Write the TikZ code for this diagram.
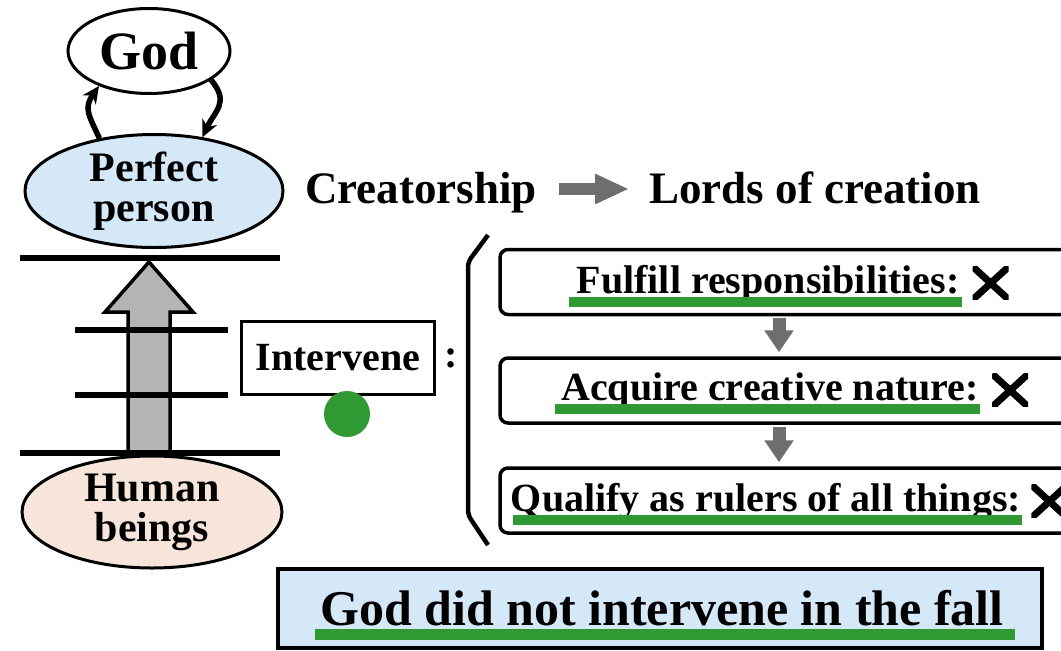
\documentclass[tikz,border=0pt]{standalone}
\usepackage{fontspec}
\setmainfont{Liberation Serif}
\usetikzlibrary{shapes,arrows.meta,positioning,calc}
\usepackage{xcolor}
\definecolor{perfblue}{RGB}{213,232,248}
\definecolor{humanpeach}{RGB}{247,228,218}
\definecolor{ugreen}{RGB}{48,153,52}
\definecolor{arrgray}{RGB}{110,110,110}
\definecolor{upgray}{RGB}{180,180,180}
\newcommand{\fsz}[1]{\fontsize{#1}{#1}\selectfont\bfseries}

\begin{document}
\begin{tikzpicture}[
    x=1pt, y=-1pt,
    oval/.style={ellipse, draw, line width=3pt, inner sep=0pt, align=center},
    txt/.style={inner sep=0pt, anchor=base, font=\fsz{40}},
    reqbox/.style={rectangle, draw, line width=3.5pt, rounded corners=8pt, minimum width=576pt, minimum height=65pt},
    uline/.style={draw=ugreen, line width=10pt},
    bar/.style={line width=6pt},
    xmark/.style={rectangle, inner sep=0pt, minimum width=36pt, minimum height=33pt,
        path picture={\draw[line width=7pt] (path picture bounding box.north west) -- (path picture bounding box.south east)
            (path picture bounding box.south west) -- (path picture bounding box.north east);}},
    downarr/.style={arrgray, line width=13pt, -{Triangle[length=22pt,width=28pt]}},
    cycarrow/.style={line width=5.5pt, -{Stealth[length=17pt,width=16pt]}}
]
    \fill[white] (0,0) rectangle (1061,651);
    \useasboundingbox (0,0) rectangle (1061,651);

    % left column
    \node[oval, minimum width=162pt, minimum height=85pt, font=\fsz{54}] (god) at (149,51) {God};
    \node[oval, fill=perfblue, minimum width=258pt, minimum height=113pt, font=\fontsize{42}{40}\selectfont\bfseries] (perfect) at (154,191) {Perfect\\person};

    \draw[cycarrow] (perfect.136) to[out=115, in=235, looseness=1.3] (god.215);
    \draw[cycarrow] (god.335) to[out=-50, in=65, looseness=1.3] (perfect.48);

    \draw[fill=upgray, line width=3.5pt] (128,453) -- (128,312) -- (105,312) -- (149,262) -- (193,312) -- (170,312) -- (170,453);
    \foreach \y/\a/\b in {258/20/280, 330/75/228, 395/75/228, 453/20/280}
        \draw[bar] (\a,\y) -- (\b,\y);

    \node[oval, fill=humanpeach, minimum width=260pt, minimum height=112pt, font=\fontsize{42}{40}\selectfont\bfseries] (human) at (152,512) {Human\\beings};

    % intervene
    \node[rectangle, draw, line width=3.5pt, minimum width=193pt, minimum height=73pt, font=\fsz{40}] (interv) at (338,358) {Intervene};
    \node[right=8pt of interv, inner sep=0pt, font=\fsz{40}] (colon) {:};
    \node[circle, fill=ugreen, minimum size=46pt, inner sep=0pt] (dot) at (347,414) {};

    % title line
    \node[inner sep=0pt, anchor=base west, font=\fsz{45}] (creator) at (305,203) {Creatorship};
    \node[inner sep=0pt, font=\fsz{45}, base right=112pt of creator] (lords) {Lords of creation};
    \draw[arrgray, line width=12pt, -{Triangle[length=34pt,width=28pt]}] ([xshift=22pt,yshift=14pt]creator.base east) -- ([xshift=-20pt,yshift=14pt]lords.base west);

    % requirements
    \draw[line width=4.5pt, rounded corners=5pt] (488,235) -- (468,262) -- (468,515) -- (488,545);
    \node[reqbox] (b1) at (788,282) {};
    \node[reqbox] (b2) at (788,390.5) {};
    \node[reqbox] (b3) at (788,500.5) {};
    \draw[downarr, shorten <=2pt, shorten >=4pt] ([xshift=-9pt]b1.south) -- ([xshift=-9pt]b2.north);
    \draw[downarr, shorten <=2pt, shorten >=4pt] ([xshift=-9pt]b2.south) -- ([xshift=-9pt]b3.north);

    \node[txt] (t1) at (768,293) {Fulfill responsibilities:};
    \node[txt] (t2) at (770,400) {Acquire creative nature:};
    \node[txt] (t3) at (766,511) {Qualify as rulers of all things:};
    \node[xmark, right=13pt of t1] (x1) {};
    \node[xmark, right=13pt of t2] (x2) {};
    \node[xmark, right=10pt of t3] (x3) {};
    \foreach \t/\l/\r in {t1/-7/2, t2/-6/1, t3/2/1}
        \draw[uline] ([xshift=\l pt, yshift=-8.5pt]\t.base west) -- ([xshift=\r pt, yshift=-8.5pt]\t.base east);

    % conclusion
    \node[rectangle, draw, line width=3.5pt, fill=perfblue, minimum width=764pt, minimum height=79pt] (verdict) at (660,608.5) {};
    \node[inner sep=0pt, anchor=base, font=\fsz{50}] (fall) at (662,625) {God did not intervene in the fall};
    \draw[uline, line width=11pt] ([xshift=-5pt,yshift=-9pt]fall.base west) -- ([xshift=11pt,yshift=-9pt]fall.base east);
\end{tikzpicture}
\end{document}
